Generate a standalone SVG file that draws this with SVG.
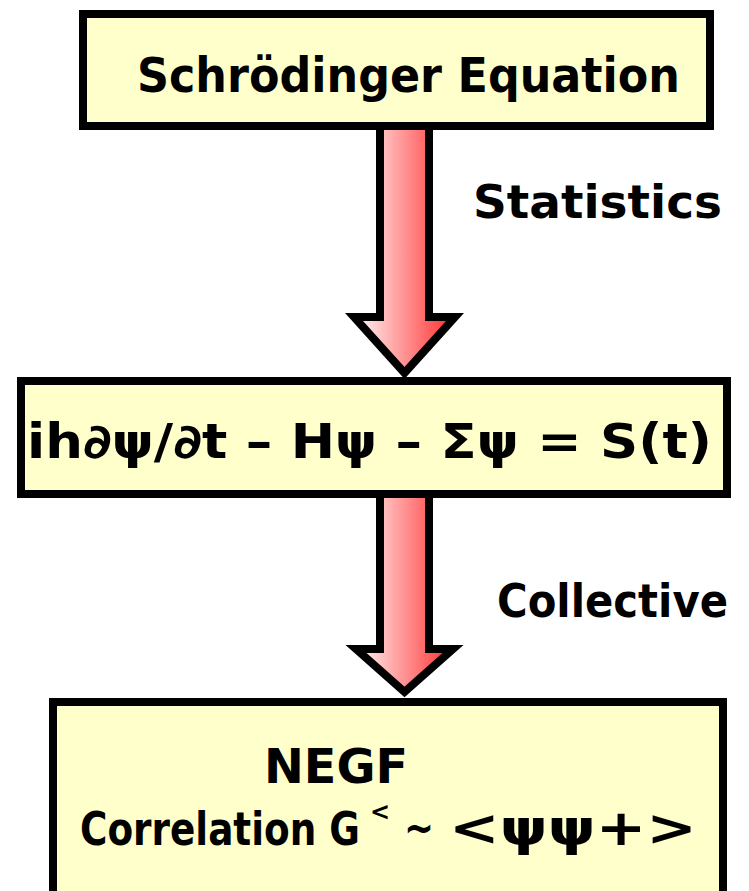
<svg xmlns="http://www.w3.org/2000/svg" width="749" height="891" viewBox="0 0 749 891">
<style>
.box{fill:#FFFFCC;stroke:#000;stroke-width:8}
.arr{stroke:#000;stroke-width:8;stroke-linejoin:miter;stroke-miterlimit:10}
text{font-family:"DejaVu Sans","Noto Sans",sans-serif;font-weight:bold;fill:#000}
</style>
<defs>
<linearGradient id="g1" gradientUnits="userSpaceOnUse" x1="352" y1="0" x2="460" y2="0">
<stop offset="0" stop-color="#FFFFFF"/><stop offset="1" stop-color="#FF2020"/>
</linearGradient>
</defs>
<rect width="749" height="891" fill="#fff"/>
<g id="n1"><rect class="box" x="83" y="14" width="627" height="112"/>
<text x="137" y="92" font-size="48" textLength="543" lengthAdjust="spacingAndGlyphs">Schrödinger Equation</text></g>
<g id="n2"><rect class="box" x="21" y="381" width="706" height="113"/>
<text x="27" y="458" font-size="48" textLength="685" lengthAdjust="spacingAndGlyphs">ih∂ψ/∂t – Hψ – Σψ = S(t)</text></g>
<g id="n3"><rect class="box" x="53" y="702" width="670" height="200"/>
<text x="264" y="783" font-size="48" textLength="144" lengthAdjust="spacingAndGlyphs">NEGF</text>
<text x="80" y="845" font-size="46" textLength="280" lengthAdjust="spacingAndGlyphs">Correlation G</text>
<text x="370" y="820" font-size="24">&lt;</text>
<text x="404" y="843" font-size="44" textLength="30" lengthAdjust="spacingAndGlyphs">~</text>
<text x="449" y="845" font-size="50" textLength="248" lengthAdjust="spacingAndGlyphs">&lt;ψψ+&gt;</text></g>
<g id="connectors">
<polygon class="arr" fill="url(#g1)" points="380,126 429,126 429,317 455,317 404.5,373 354,317 380,317"/>
<polygon class="arr" fill="url(#g1)" points="380,494 429,494 429,649 453,649 404.5,692 356,649 380,649"/>
<text x="473" y="218" font-size="46" textLength="249" lengthAdjust="spacingAndGlyphs">Statistics</text>
<text x="497" y="617" font-size="46" textLength="231" lengthAdjust="spacingAndGlyphs">Collective</text>
</g>
</svg>
